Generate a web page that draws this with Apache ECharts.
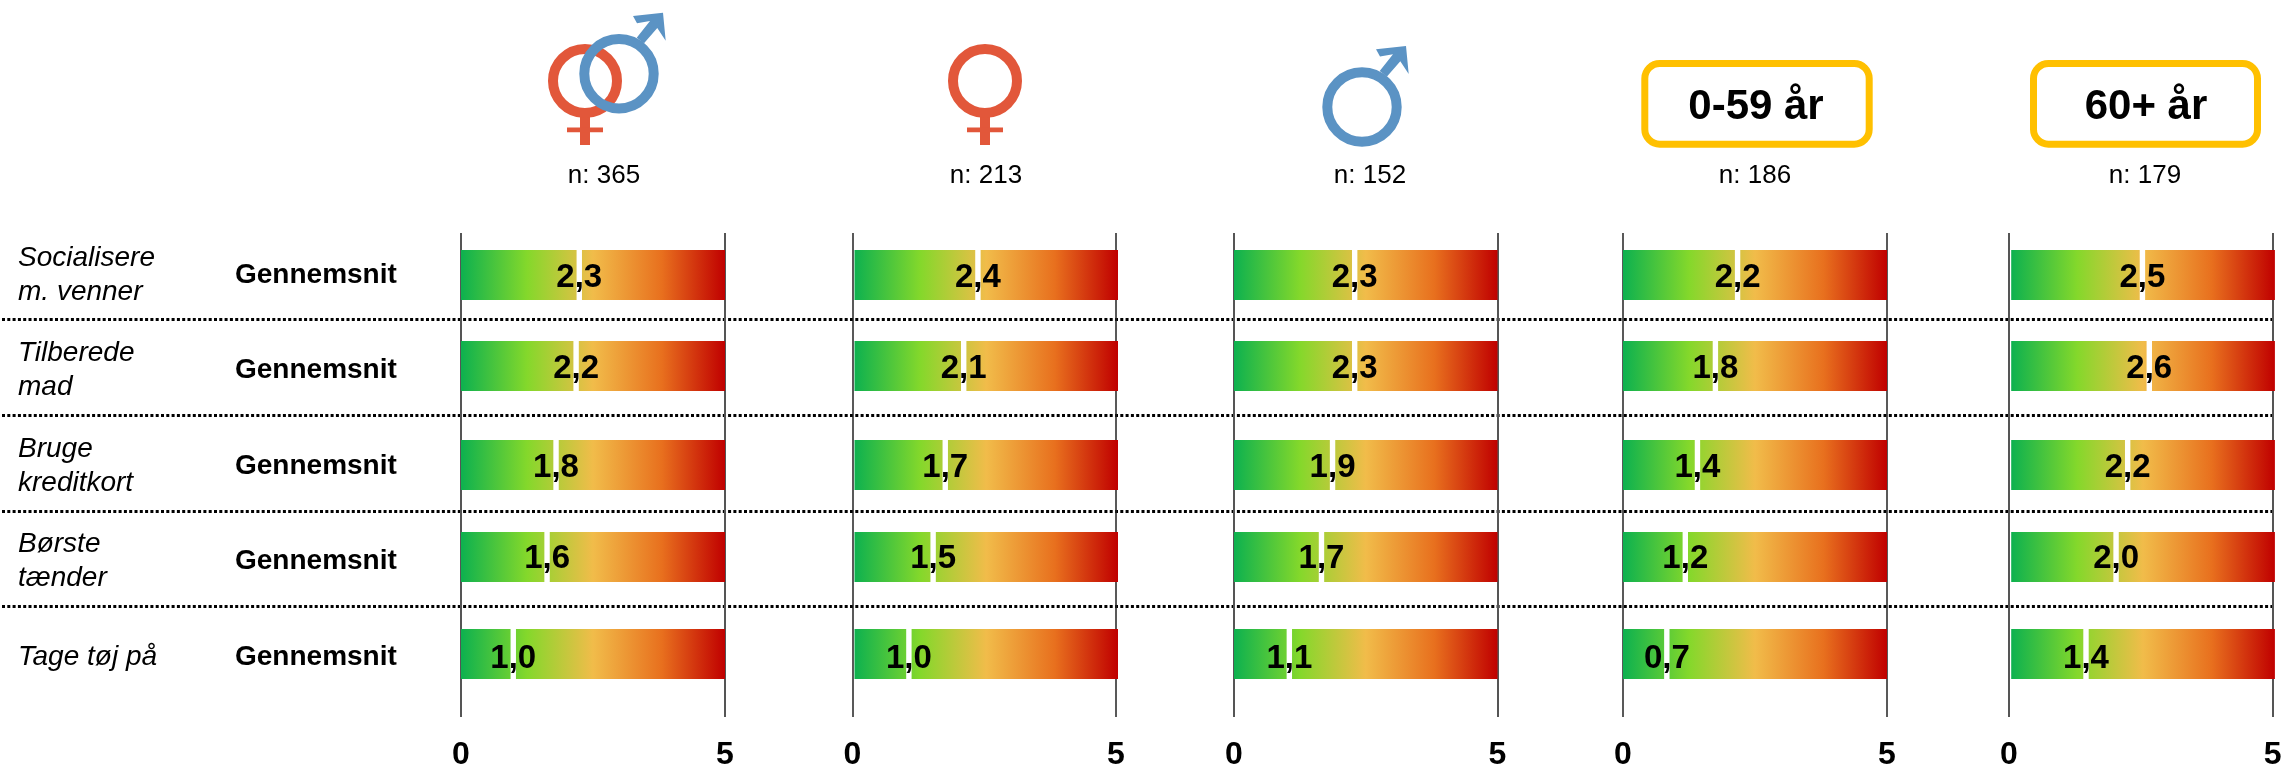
<!DOCTYPE html>
<html><head><meta charset="utf-8">
<style>html,body{margin:0;padding:0;background:#fff}#c{width:2281px;height:764px}</style>
<script src="https://cdn.jsdelivr.net/npm/echarts@6/dist/echarts.min.js"></script>
</head><body><div id="c"></div>
<script>
// ---- data ----
const activities = ['Socialisere\nm. venner','Tilberede\nmad','Bruge\nkreditkort','Børste\ntænder','Tage tøj på'];
const rowKind = ['Gennemsnit','Gennemsnit','Gennemsnit','Gennemsnit','Gennemsnit'];
const axisTicks = [0, 5];
const sampleSizes = ['n: 365','n: 213','n: 152','n: 186','n: 179'];
const ageGroups = ['0-59 år','60+ år'];
const markerAll    = [2.24,2.18,1.80,1.63,0.99];
const markerWomen  = [2.38,2.11,1.76,1.53,1.07];
const markerMen    = [2.29,2.29,1.87,1.66,1.05];
const markerYoung  = [2.17,1.75,1.41,1.18,0.83];
const markerOld    = [2.53,2.66,2.25,2.03,1.46];
const labelsAll    = ['2,3','2,2','1,8','1,6','1,0'];
const labelsWomen  = ['2,4','2,1','1,7','1,5','1,0'];
const labelsMen    = ['2,3','2,3','1,9','1,7','1,1'];
const labelsYoung  = ['2,2','1,8','1,4','1,2','0,7'];
const labelsOld    = ['2,5','2,6','2,2','2,0','1,4'];

// ---- layout and style ----
const FONT = '"Liberation Sans", Arial, sans-serif';
const RED = '#E2573A', BLUE = '#5B93C4', GOLD = '#FFC000';
const W = 2281;
const panelSpans = [[461,725],[852.5,1116],[1234,1497.5],[1623,1887],[2009,2272.7]];
const trackShift = [0,2,0,0,2.2];
const axisLineStyles = [['#555',2],['#222',1.5],['#555',2],['#222',1.5],['#555',2]];
const panelMarkers = [markerAll,markerWomen,markerMen,markerYoung,markerOld];
const panelLabels = [labelsAll,labelsWomen,labelsMen,labelsYoung,labelsOld];
const nCenters = [604,986,1370,1755,2145];
const PLOT_TOP = 233, PLOT_H = 484;
const barCenters = [275,366,465,557,654];
const labelNudge = [2.5,2.5,2.5,1.5,4.5];
const BAR_H = 50, GAP_W = 5.4;
const gradStops = [
  {offset:0,color:'#0DB14F'},{offset:0.25,color:'#84D82B'},{offset:0.5,color:'#F1BC4A'},
  {offset:0.76,color:'#E8701E'},{offset:1,color:'#C00000'}];

const grid = [
  {left:2, width:2270, top:224, height:478, outerBoundsMode:'none'},
  {left:18, width:200, top:227, height:478, outerBoundsMode:'none'},
  {left:235, width:180, top:227, height:478, outerBoundsMode:'none'},
];
const xAxis = [0,1,2].map(function(g){return {gridIndex:g,type:'value',show:false,min:0,max:1};});
const blankAxis = {axisLine:{show:false},axisTick:{show:false}};
const yAxis = [
  Object.assign({gridIndex:0,type:'category',inverse:true,data:activities,
    axisLabel:{show:false},
    splitLine:{show:true,showMinLine:false,showMaxLine:false,lineStyle:{color:'#000',width:3,type:[3,2.3]}}},blankAxis),
  Object.assign({gridIndex:1,type:'category',inverse:true,data:activities,
    axisLabel:{inside:true,margin:0,align:'left',fontFamily:FONT,fontStyle:'italic',fontSize:28,lineHeight:34,color:'#000'},
    splitLine:{show:false}},blankAxis),
  Object.assign({gridIndex:2,type:'category',inverse:true,data:rowKind,
    axisLabel:{inside:true,margin:0,align:'left',fontFamily:FONT,fontWeight:'bold',fontSize:28,color:'#000'},
    splitLine:{show:false}},blankAxis),
];
const series = [];
panelSpans.forEach(function(span,p){
  const gi = grid.length;
  grid.push({left:span[0],width:span[1]-span[0],top:PLOT_TOP,height:PLOT_H,outerBoundsMode:'none'});
  xAxis.push({gridIndex:gi,type:'value',min:axisTicks[0],max:axisTicks[1],interval:5,
    axisLine:{show:false},axisTick:{show:false},
    splitLine:{show:true,lineStyle:{color:axisLineStyles[p][0],width:axisLineStyles[p][1]}},
    axisLabel:{fontFamily:FONT,fontWeight:'bold',fontSize:32,color:'#000',margin:22,hideOverlap:false,showMinLabel:true,showMaxLabel:true}});
  yAxis.push({gridIndex:gi,type:'category',inverse:true,show:false,data:activities});
  const shift = trackShift[p], labels = panelLabels[p];
  series.push({
    type:'custom',xAxisIndex:gi,yAxisIndex:gi,z:5,clip:false,
    encode:{x:0,y:1},
    data:panelMarkers[p].map(function(v,i){return [v,i];}),
    renderItem:function(params,api){
      const r = api.value(1);
      const a = api.coord([0,r]), b = api.coord([5,r]), m = api.coord([api.value(0),r]);
      const cy = barCenters[r];
      return {type:'group',children:[
        {type:'rect',shape:{x:a[0]+shift,y:cy-BAR_H/2,width:b[0]-a[0],height:BAR_H},
         style:{fill:new echarts.graphic.LinearGradient(0,0,1,0,gradStops)}},
        {type:'rect',shape:{x:m[0]-GAP_W/2,y:cy-BAR_H/2,width:GAP_W,height:BAR_H},style:{fill:'#fff'}},
        {type:'text',z2:10,style:{text:labels[r],x:m[0],y:cy+labelNudge[r],align:'center',verticalAlign:'middle',
          fontFamily:FONT,fontWeight:'bold',fontSize:33,fill:'#000'}}
      ]};
    }
  });
});

// ---- header icons ----
function female(cx,cy,z){
  return [
    {type:'rect',z:z,shape:{x:cx-5,y:cy+33,width:10,height:31},style:{fill:RED}},
    {type:'rect',z:z,shape:{x:cx-18,y:cy+46.5,width:36,height:4.8},style:{fill:RED}},
    {type:'circle',z:z,shape:{cx:cx,cy:cy,r:32},style:{fill:'none',stroke:RED,lineWidth:10}},
  ];
}
function male(cx,cy,z){
  const pts = [[14,-57.7],[44,-61],[46.7,-33],[38.3,-45.7],[25,-30.4],[17.7,-36],[31,-52.7],[18,-50.4]];
  return [
    {type:'polygon',z:z,shape:{points:pts.map(function(q){return [cx+q[0],cy+q[1]];})},style:{fill:BLUE}},
    {type:'circle',z:z,shape:{cx:cx,cy:cy,r:34.7},style:{fill:'none',stroke:BLUE,lineWidth:10}},
  ];
}
function ageBox(x,w,txt,tx){
  return [
    {type:'rect',shape:{x:x+3.5,y:63.5,width:w-7,height:80.7,r:15},style:{fill:'#fff',stroke:GOLD,lineWidth:7}},
    {type:'text',z:3,style:{text:txt,x:tx,y:107,align:'center',verticalAlign:'middle',fontFamily:FONT,fontWeight:'bold',fontSize:42,fill:'#000'}},
  ];
}
const graphic = [].concat(
  female(585,81,1), male(619,73.7,2),
  female(985,81,1), male(1362,107,2),
  ageBox(1641.3,231.4,ageGroups[0],1756), ageBox(2030,231,ageGroups[1],2146),
  sampleSizes.map(function(t,i){
    return {type:'text',style:{text:t,x:nCenters[i],y:175.5,align:'center',verticalAlign:'middle',fontFamily:FONT,fontSize:26,fill:'#000'}};
  })
);

const chart = echarts.init(document.getElementById('c'),null,{renderer:'canvas',width:W,height:764});
chart.setOption({backgroundColor:'#fff',animation:false,grid:grid,xAxis:xAxis,yAxis:yAxis,series:series,graphic:graphic});
</script></body></html>
